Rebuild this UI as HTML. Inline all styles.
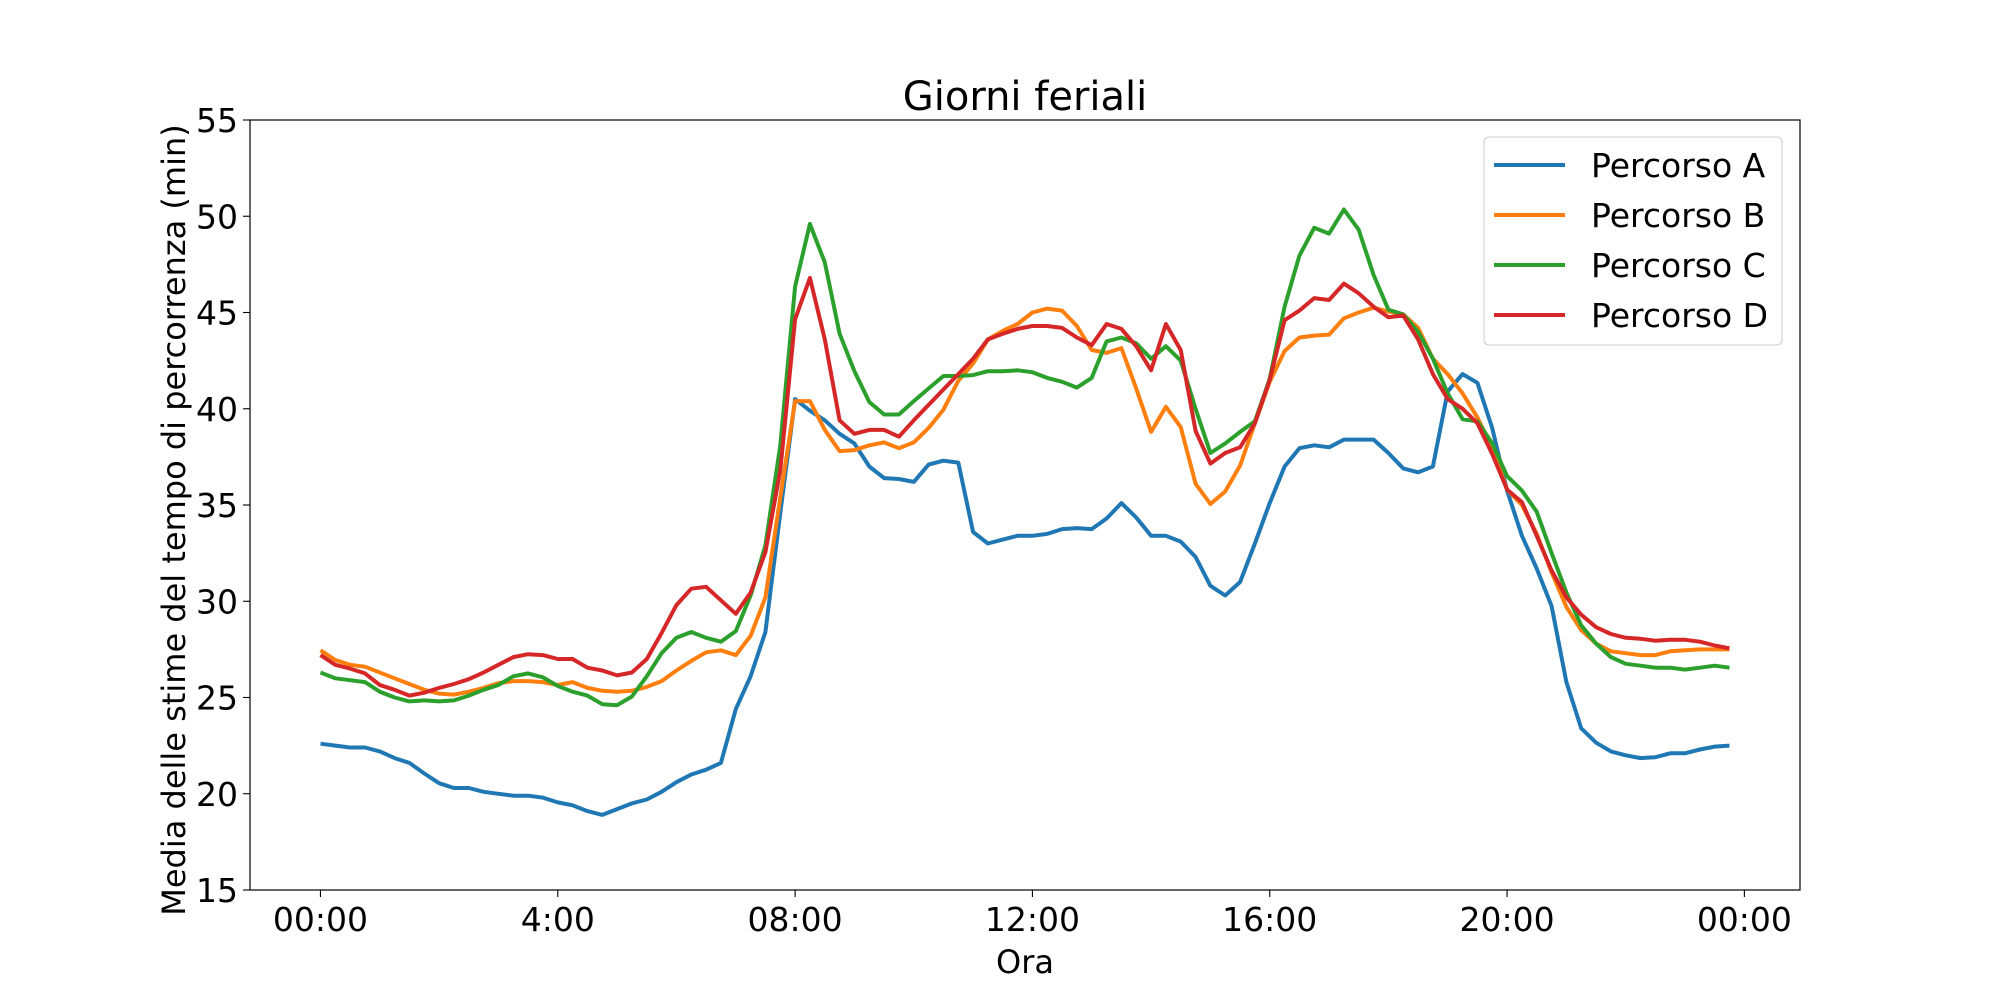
<!DOCTYPE html>
<html><head><meta charset="utf-8"><style>
body{margin:0;background:#fff}
svg text{font-family:"DejaVu Sans","Liberation Sans",sans-serif;fill:#000}
</style></head><body>
<svg id="chart" width="2000" height="1000" viewBox="0 0 2000 1000" xmlns="http://www.w3.org/2000/svg">
<rect width="2000" height="1000" fill="#fff"/>
<text x="1025" y="110" font-size="40" text-anchor="middle">Giorni feriali</text>
<g id="ticks"></g>
<g id="series"></g>
<rect x="250" y="120" width="1550" height="770" fill="none" stroke="#000" stroke-width="1.2"/>
<text x="1025" y="973" font-size="32" text-anchor="middle">Ora</text>
<text transform="translate(185,520) rotate(-90)" font-size="32" text-anchor="middle">Media delle stime del tempo di percorrenza (min)</text>
<g id="legend"></g>
</svg>
<script>
const seriesNames = ["Percorso A","Percorso B","Percorso C","Percorso D"];
const seriesColors = ["#1f77b4","#ff7f0e","#2ca02c","#d62728"];
const xTickHours = [0,4,8,12,16,20,24];
const xTickLabels = ["00:00","4:00","08:00","12:00","16:00","20:00","00:00"];
const yTicks = [15,20,25,30,35,40,45,50,55];
const percorsoA = [22.6,22.5,22.4,22.4,22.2,21.85,21.6,21.05,20.55,20.3,20.3,20.1,20.0,19.9,19.9,19.8,19.55,19.4,19.1,18.9,19.2,19.5,19.7,20.1,20.6,21.0,21.25,21.6,24.4,26.1,28.4,34.6,40.5,39.9,39.4,38.7,38.2,37.0,36.4,36.35,36.2,37.1,37.3,37.2,33.6,33.0,33.2,33.4,33.4,33.5,33.75,33.8,33.75,34.3,35.1,34.35,33.4,33.4,33.1,32.3,30.8,30.3,31.0,33.0,35.1,37.0,37.95,38.1,38.0,38.4,38.4,38.4,37.7,36.9,36.7,37.0,40.9,41.8,41.35,39.0,35.75,33.4,31.7,29.75,25.8,23.4,22.65,22.2,22.0,21.85,21.9,22.1,22.1,22.3,22.45,22.5];
const percorsoB = [27.45,26.95,26.7,26.6,26.3,26.0,25.7,25.4,25.2,25.15,25.3,25.5,25.75,25.85,25.85,25.8,25.65,25.8,25.5,25.35,25.3,25.35,25.55,25.85,26.4,26.9,27.35,27.45,27.2,28.2,30.2,35.4,40.4,40.4,38.9,37.8,37.85,38.1,38.25,37.95,38.25,39.0,39.95,41.45,42.35,43.6,44.05,44.4,45.0,45.2,45.1,44.3,43.05,42.9,43.15,41.05,38.8,40.1,39.05,36.1,35.05,35.7,37.05,39.25,41.4,43.0,43.7,43.8,43.85,44.7,45.0,45.25,45.05,44.9,44.2,42.6,41.8,40.8,39.55,37.95,35.8,35.0,33.5,31.5,29.7,28.5,27.8,27.4,27.3,27.2,27.2,27.4,27.45,27.5,27.5,27.5];
const percorsoC = [26.3,26.0,25.9,25.8,25.3,25.0,24.8,24.85,24.8,24.85,25.1,25.4,25.65,26.1,26.25,26.05,25.6,25.3,25.1,24.65,24.6,25.05,26.1,27.3,28.1,28.4,28.1,27.9,28.45,30.3,32.9,38.1,46.35,49.6,47.6,43.9,41.95,40.35,39.7,39.7,40.4,41.05,41.7,41.7,41.75,41.95,41.95,42.0,41.9,41.6,41.4,41.1,41.6,43.5,43.7,43.4,42.6,43.25,42.5,40.0,37.7,38.2,38.8,39.35,41.55,45.3,47.95,49.4,49.1,50.35,49.3,46.95,45.15,44.9,44.0,42.6,40.8,39.45,39.35,38.2,36.5,35.75,34.65,32.5,30.45,28.75,27.8,27.1,26.75,26.65,26.55,26.55,26.45,26.55,26.65,26.55];
const percorsoD = [27.2,26.7,26.5,26.25,25.65,25.4,25.1,25.25,25.5,25.7,25.95,26.3,26.7,27.1,27.25,27.2,27.0,27.0,26.55,26.4,26.15,26.3,27.0,28.35,29.8,30.65,30.75,30.05,29.35,30.45,32.55,36.8,44.65,46.8,43.6,39.4,38.7,38.9,38.9,38.55,39.4,40.2,41.0,41.8,42.6,43.6,43.9,44.15,44.3,44.3,44.2,43.7,43.3,44.4,44.15,43.25,42.0,44.4,43.05,38.85,37.15,37.7,38.0,39.25,41.5,44.6,45.1,45.75,45.65,46.5,46.0,45.3,44.75,44.85,43.6,41.8,40.5,40.0,39.25,37.65,35.8,35.15,33.4,31.6,30.2,29.3,28.65,28.3,28.1,28.05,27.95,28.0,28.0,27.9,27.7,27.55];
const allSeries = [percorsoA, percorsoB, percorsoC, percorsoD];

const NS = "http://www.w3.org/2000/svg";
const L=250,R=1800,T=120,B=890;
const xMin=-1.1875, xMax=24.9375, yMin=15, yMax=55;
const xs = h => L + (h - xMin)/(xMax - xMin)*(R-L);
const ys = v => B - (v - yMin)/(yMax - yMin)*(B-T);
function mk(tag, attrs, parent){const e=document.createElementNS(NS,tag);for(const k in attrs)e.setAttribute(k,attrs[k]);parent.appendChild(e);return e;}

const tg=document.getElementById("ticks");
xTickHours.forEach((h,i)=>{
  const x=xs(h);
  const t=mk("line",{x1:x,x2:x,y1:B,y2:B+7,stroke:"#000","stroke-width":1.1},tg);
  
  
  const l=mk("text",{x:x,y:B+41,"font-size":33,"text-anchor":"middle"},tg);
  l.textContent=xTickLabels[i];
  
  
});
yTicks.forEach(v=>{
  const y=ys(v);
  const t=mk("line",{x1:L-7,x2:L,y1:y,y2:y,stroke:"#000","stroke-width":1.1},tg);
  
  
  const l=mk("text",{x:L-12,y:y+12,"font-size":33,"text-anchor":"end"},tg);
  l.textContent=String(v);
  
  
});

const sg=document.getElementById("series");
allSeries.forEach((arr,si)=>{
  const pts=arr.map((v,i)=>xs(i*0.25).toFixed(1)+","+ys(v).toFixed(1)).join(" ");
  const p=mk("polyline",{points:pts,fill:"none",stroke:seriesColors[si],"stroke-width":4,"stroke-linejoin":"round"},sg);
  
  
});

const lg=document.getElementById("legend");
const box=mk("rect",{x:1484,y:137,width:298,height:208,rx:5,fill:"#fff","fill-opacity":0.8,stroke:"#ccc","stroke-width":1},lg);


seriesNames.forEach((n,i)=>{
  const y=165+i*50;
  const ln=mk("line",{x1:1494,x2:1565,y1:y,y2:y,stroke:seriesColors[i],"stroke-width":4},lg);
  
  
  const tx=mk("text",{x:1591,y:y+12,"font-size":33},lg);
  tx.textContent=n;
  
  
});
</script>
</body></html>
